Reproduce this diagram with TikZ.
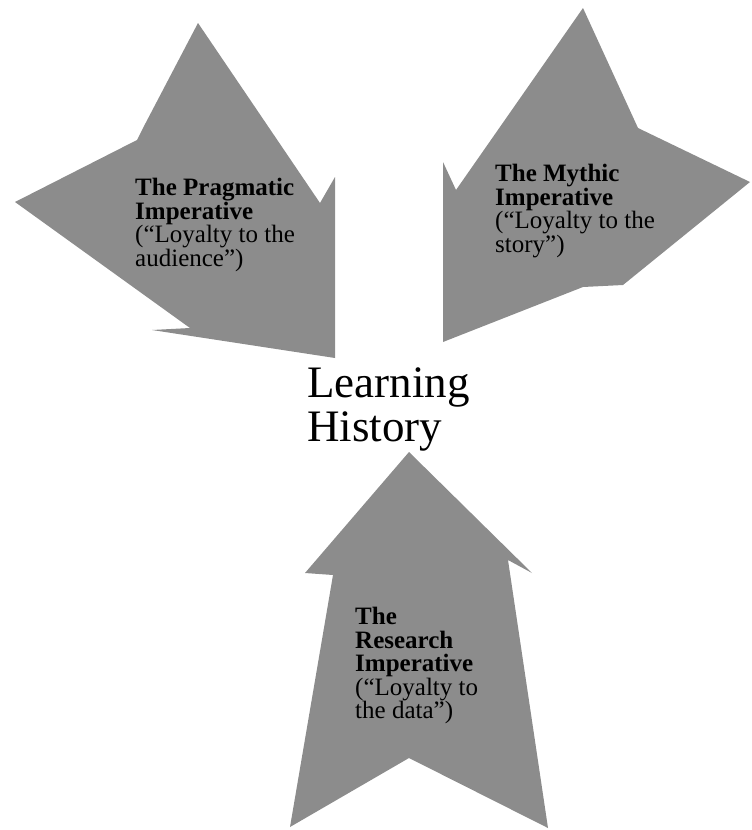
\documentclass[tikz,border=0pt]{standalone}
\usepackage{fontspec}
\setmainfont{Liberation Serif}
\definecolor{argray}{gray}{0.55}
\begin{document}
\begin{tikzpicture}[x=1pt,y=-1pt,
  arrowshape/.style={fill=argray,draw=none},
  label/.style={anchor=north west,inner sep=0pt,align=left,
    font=\fontsize{25}{23.5}\selectfont},
  title/.style={anchor=north west,inner sep=0pt,align=left,
    font=\fontsize{45}{44}\selectfont}]
\useasboundingbox (0,0) rectangle (752,830);
% left (pragmatic) arrow
\fill[arrowshape] (198,23) -- (143,128) -- (137,140) -- (15,202) -- (190,328)
  -- (152,330) -- (335,358) -- (335,177) -- (320,203) -- cycle;
% right (mythic) arrow
\fill[arrowshape] (583,8) -- (638,128) -- (750,182) -- (623,285) -- (583,287)
  -- (443,342) -- (443,162) -- (456,190) -- cycle;
% bottom (research) arrow
\fill[arrowshape] (409,452) -- (305,573) -- (333,575) -- (290,827) -- (409,758)
  -- (548,828) -- (508,560) -- (532,573) -- cycle;
\node[label] (prag) at (135,178) {\textbf{The Pragmatic}\\\textbf{Imperative}\\(“Loyalty to the\\audience”)};
\node[label] (myth) at (495,164) {\textbf{The Mythic}\\\textbf{Imperative}\\(“Loyalty to the\\story”)};
\node[label] (res) at (355,607) {\textbf{The}\\\textbf{Research}\\\textbf{Imperative}\\(“Loyalty to\\the data”)};
\node[title] (lh) at (307,367) {Learning\\History};
\end{tikzpicture}
\end{document}
